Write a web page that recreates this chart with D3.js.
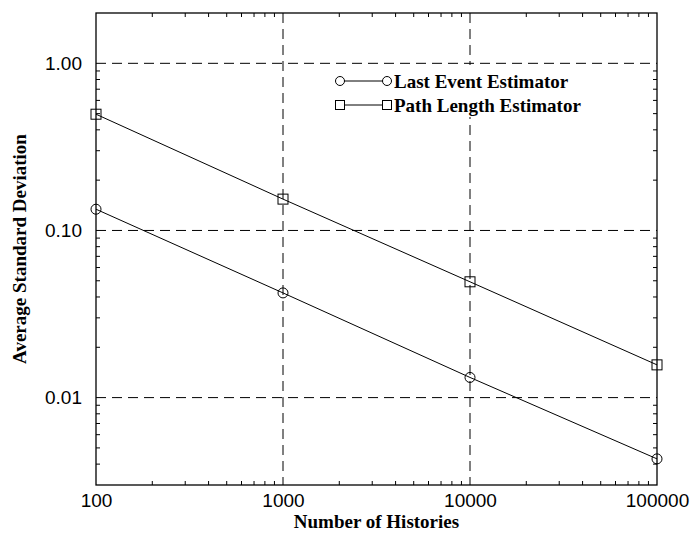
<!DOCTYPE html>
<html>
<head>
    <script src="https://d3js.org/d3.v7.min.js"></script>
    <style>
        body { margin: 0; background: #fff; }
        .tick text { font-family: "Liberation Sans", Arial, sans-serif; font-size: 19px; fill: #000; }
        .serif { font-family: "Liberation Serif", "Times New Roman", serif; font-weight: bold; }
    </style>
</head>
<body>
    <div id="chart"></div>

    <script>
        // data
        const histories = [100, 1000, 10000, 100000];
        const lastEvent = [0.134, 0.0423, 0.0132, 0.0043];
        const pathLength = [0.496, 0.154, 0.0493, 0.0157];
        const xTicks = [100, 1000, 10000, 100000];
        const yTicks = [0.01, 0.1, 1];
        const seriesNames = ["Last Event Estimator", "Path Length Estimator"];

        const width = 696, height = 542;
        const margin = {top: 13, right: 39, bottom: 57, left: 96};
        const w = width - margin.left - margin.right;
        const h = height - margin.top - margin.bottom;

        const svg = d3.select("#chart").append("svg")
            .attr("width", width)
            .attr("height", height);

        const g = svg.append("g")
            .attr("transform", `translate(${margin.left},${margin.top})`);

        const x = d3.scaleLog().domain([100, 100000]).range([0, w]);
        const y = d3.scaleLog().domain([0.003, 2]).range([h, 0]);

        // minor ticks, pointing inward on every side
        const xMinor = [];
        for (let d = 100; d < 100000; d *= 10)
            for (let k = 2; k <= 9; k++) xMinor.push(d * k);
        const yMinor = [];
        for (let d = 0.001; d < 2; d *= 10)
            for (let k = 2; k <= 9; k++) {
                const v = d * k;
                if (v > 0.003 && v < 2) yMinor.push(v);
            }

        const tickLen = 4;
        const ticks = g.append("g").attr("stroke", "#000");
        ticks.selectAll("line.xb").data(xMinor).join("line").attr("class", "xb")
            .attr("x1", d => x(d)).attr("x2", d => x(d))
            .attr("y1", h).attr("y2", h - tickLen);
        ticks.selectAll("line.xt").data(xMinor).join("line").attr("class", "xt")
            .attr("x1", d => x(d)).attr("x2", d => x(d))
            .attr("y1", 0).attr("y2", tickLen);
        ticks.selectAll("line.yl").data(yMinor).join("line").attr("class", "yl")
            .attr("y1", d => y(d)).attr("y2", d => y(d))
            .attr("x1", 0).attr("x2", tickLen);
        ticks.selectAll("line.yr").data(yMinor).join("line").attr("class", "yr")
            .attr("y1", d => y(d)).attr("y2", d => y(d))
            .attr("x1", w).attr("x2", w - tickLen);

        // dashed grid at the decades
        g.append("g").selectAll("line").data(xTicks.slice(1, -1)).join("line")
            .attr("x1", d => x(d)).attr("x2", d => x(d))
            .attr("y1", 0).attr("y2", h)
            .attr("stroke", "#000").attr("stroke-dasharray", "10,6");
        g.append("g").selectAll("line").data(yTicks).join("line")
            .attr("y1", d => y(d)).attr("y2", d => y(d))
            .attr("x1", 0).attr("x2", w)
            .attr("stroke", "#000").attr("stroke-dasharray", "10,6");

        // frame
        g.append("rect")
            .attr("width", w).attr("height", h)
            .attr("fill", "none").attr("stroke", "#000").attr("stroke-width", 1.3);

        // tick labels
        const xAxis = g.append("g")
            .attr("transform", `translate(0,${h})`)
            .call(d3.axisBottom(x).tickValues(xTicks).tickFormat(d3.format("d")).tickSize(0).tickPadding(9));
        const yAxis = g.append("g")
            .call(d3.axisLeft(y).tickValues(yTicks).tickFormat(d3.format(".2f")).tickSize(0).tickPadding(14));
        xAxis.select(".domain").remove();
        yAxis.select(".domain").remove();

        // series
        const line = d3.line().x((d, i) => x(histories[i])).y(d => y(d));
        [lastEvent, pathLength].forEach(vals => {
            g.append("path").datum(vals)
                .attr("d", line)
                .attr("fill", "none").attr("stroke", "#000").attr("stroke-width", 1);
        });
        g.append("g").selectAll("circle").data(lastEvent).join("circle")
            .attr("cx", (d, i) => x(histories[i])).attr("cy", d => y(d))
            .attr("r", 5).attr("fill", "none").attr("stroke", "#000");
        g.append("g").selectAll("rect").data(pathLength).join("rect")
            .attr("x", (d, i) => x(histories[i]) - 5).attr("y", d => y(d) - 5)
            .attr("width", 10).attr("height", 10)
            .attr("fill", "none").attr("stroke", "#000");

        // legend, on a white box that hides the grid behind it
        const legend = g.append("g").attr("transform", "translate(244,68)");
        legend.append("rect")
            .attr("x", -10).attr("y", -16).attr("width", 268).attr("height", 52)
            .attr("fill", "#fff");
        seriesNames.forEach((name, i) => {
            const row = legend.append("g").attr("transform", `translate(0,${i * 24})`);
            row.append("line").attr("x1", 0).attr("x2", 47).attr("stroke", "#000");
            if (i === 0) {
                row.selectAll("circle").data([0, 47]).join("circle")
                    .attr("cx", d => d).attr("r", 4.5)
                    .attr("fill", "#fff").attr("stroke", "#000");
            } else {
                row.selectAll("rect").data([0, 47]).join("rect")
                    .attr("x", d => d - 4.5).attr("y", -4.5)
                    .attr("width", 9).attr("height", 9)
                    .attr("fill", "#fff").attr("stroke", "#000");
            }
            row.append("text")
                .attr("class", "serif")
                .attr("x", 54).attr("dy", "0.35em")
                .attr("font-size", 19)
                .text(name);
        });

        // axis titles
        svg.append("text")
            .attr("class", "serif")
            .attr("x", margin.left + w / 2).attr("y", 528)
            .attr("text-anchor", "middle")
            .attr("font-size", 19)
            .text("Number of Histories");
        svg.append("text")
            .attr("class", "serif")
            .attr("transform", `translate(26,${margin.top + h / 2}) rotate(-90)`)
            .attr("text-anchor", "middle")
            .attr("font-size", 19)
            .text("Average Standard Deviation");
    </script>
</body>
</html>
